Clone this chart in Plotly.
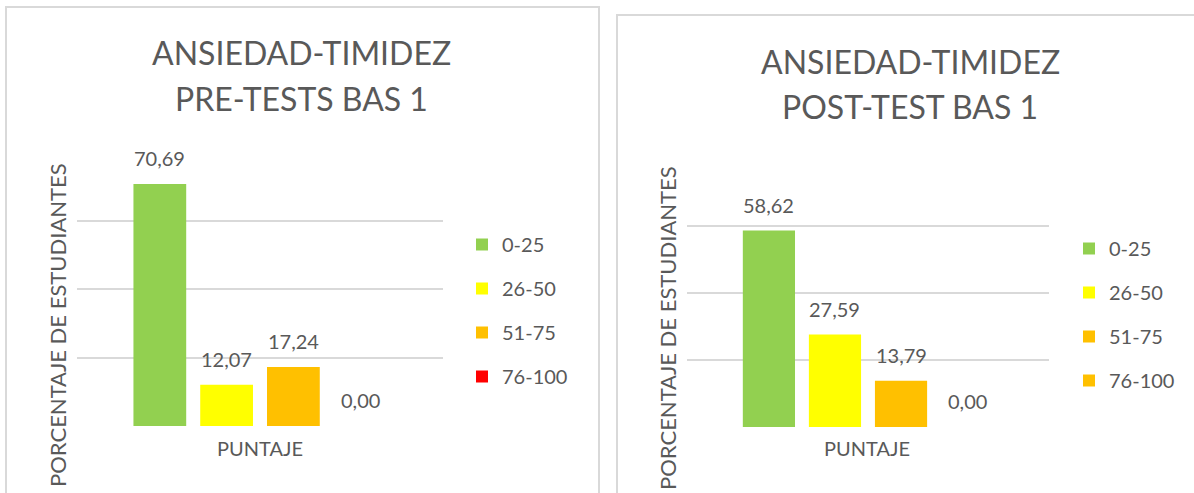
import plotly.graph_objects as go

# Score bands and the share of students in each band
categories = ["0-25", "26-50", "51-75", "76-100"]
pre_values = [70.69, 12.07, 17.24, 0.00]
post_values = [58.62, 27.59, 13.79, 0.00]
pre_colors = ["#92D050", "#FFFF00", "#FFC000", "#FF0000"]
post_colors = ["#92D050", "#FFFF00", "#FFC000", "#FFC000"]
y_ticks = [0, 20, 40, 60, 80]

title_main = "ANSIEDAD-TIMIDEZ"
pre_subtitle = "PRE-TESTS BAS 1"
post_subtitle = "POST-TEST BAS 1"
x_title = "PUNTAJE"
y_title = "PORCENTAJE DE ESTUDIANTES"

W, H = 1194, 493
FONT = "Lato"
TEXT = "#595959"
GRID = "#D9D9D9"


def px(x):
    return x / W


def py(y):
    return 1 - y / H


fig = go.Figure()

panels = [
    dict(xa="x", ya="y", legend="legend", values=pre_values, colors=pre_colors,
         subtitle=pre_subtitle, dom_x=(77, 443), dom_y=(152, 426),
         title_x=301, t1=52, t2=98, ytitle_x=57, ytitle_y=325, xtitle_x=260,
         border=(6, 7, 599), leg=(462, 225)),
    dict(xa="x2", ya="y2", legend="legend2", values=post_values, colors=post_colors,
         subtitle=post_subtitle, dom_x=(687, 1049), dom_y=(159, 427),
         title_x=910, t1=61, t2=106, ytitle_x=667, ytitle_y=328, xtitle_x=867,
         border=(617, 15, 1300), leg=(1069, 229)),
]

annotations = []
shapes = []
layout_axes = {}

for i, p in enumerate(panels):
    for cat, val, col in zip(categories, p["values"], p["colors"]):
        fig.add_trace(go.Bar(
            x=[cat], y=[val], name=cat,
            marker=dict(color=col, line=dict(width=0)),
            xaxis=p["xa"], yaxis=p["ya"], legend=p["legend"],
            legendgroup=f"{p['legend']}-{cat}",
        ))
        annotations.append(dict(
            x=cat, y=val, xref=p["xa"], yref=p["ya"],
            text=f"{val:.2f}".replace(".", ","), showarrow=False,
            yanchor="bottom", yshift=12,
            font=dict(family=FONT, size=20, color=TEXT),
        ))

    suffix = "" if i == 0 else "2"
    layout_axes["xaxis" + suffix] = dict(
        type="category", categoryarray=categories, range=[-1.24, 4.24],
        domain=[px(p["dom_x"][0]), px(p["dom_x"][1])],
        showticklabels=False, showgrid=False, zeroline=False, showline=False,
        anchor=p["ya"],
    )
    layout_axes["yaxis" + suffix] = dict(
        range=[0, 80], tickvals=y_ticks, showticklabels=False,
        domain=[py(p["dom_y"][1]), py(p["dom_y"][0])],
        showgrid=True, gridcolor=GRID, gridwidth=1.5, zeroline=False,
        showline=False, anchor=p["xa"],
    )

    # chart titles
    annotations.append(dict(
        x=px(p["title_x"]), y=py(p["t1"]), xref="paper", yref="paper",
        text=title_main, showarrow=False, xanchor="center", yanchor="middle",
        font=dict(family=FONT, size=32, color=TEXT),
    ))
    annotations.append(dict(
        x=px(p["title_x"]), y=py(p["t2"]), xref="paper", yref="paper",
        text=p["subtitle"], showarrow=False, xanchor="center", yanchor="middle",
        font=dict(family=FONT, size=32, color=TEXT),
    ))
    # axis titles
    annotations.append(dict(
        x=px(p["ytitle_x"]), y=py(p["ytitle_y"]), xref="paper", yref="paper",
        text=y_title, textangle=-90, showarrow=False,
        xanchor="center", yanchor="middle",
        font=dict(family=FONT, size=22, color=TEXT),
    ))
    annotations.append(dict(
        x=px(p["xtitle_x"]), y=py(448), xref="paper", yref="paper",
        text=x_title, showarrow=False, xanchor="center", yanchor="middle",
        font=dict(family=FONT, size=20, color=TEXT),
    ))
    # chart frame
    bx0, by0, bx1 = p["border"]
    shapes.append(dict(
        type="rect", xref="paper", yref="paper",
        x0=px(bx0), x1=px(bx1), y0=-0.2, y1=py(by0),
        line=dict(color=GRID, width=2), fillcolor="rgba(0,0,0,0)", layer="below",
    ))
    layout_axes[p["legend"]] = dict(
        x=px(p["leg"][0]), y=py(p["leg"][1]), xanchor="left", yanchor="top",
        tracegroupgap=15, bgcolor="rgba(0,0,0,0)",
        font=dict(family=FONT, size=20, color=TEXT),
    )

fig.update_layout(
    width=W, height=H,
    margin=dict(l=0, r=0, t=0, b=0),
    paper_bgcolor="white", plot_bgcolor="white",
    barmode="overlay", bargap=0.21,
    separators=",.",
    annotations=annotations, shapes=shapes,
    font=dict(family=FONT, color=TEXT),
    **layout_axes,
)

fig.write_html("out.html")
